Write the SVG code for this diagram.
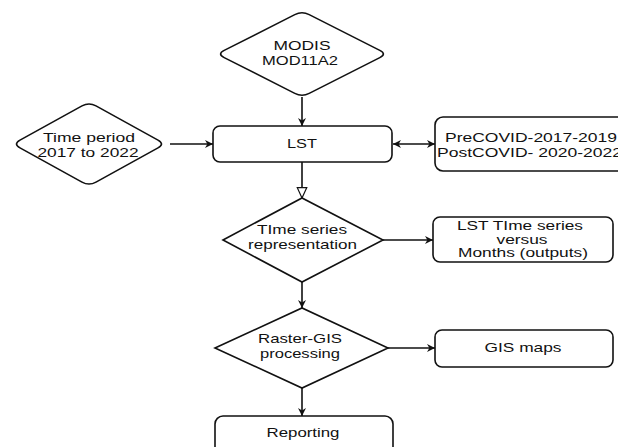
<svg xmlns="http://www.w3.org/2000/svg" width="618" height="447" viewBox="0 0 618 447">
<style>
.shape{fill:#fff;stroke:#111;stroke-width:1.6}
.t{font-family:"Liberation Sans",Arial,sans-serif;font-size:13.5px;fill:#111;text-anchor:middle}
.ts{text-anchor:start}
.sm{font-size:12px}
.c{stroke:#111;stroke-width:1.6;fill:none}
</style>
<defs>
<marker id="arr" viewBox="0 0 10 10" refX="10" refY="5" markerWidth="9" markerHeight="8" markerUnits="userSpaceOnUse" orient="auto-start-reverse">
<path d="M0,0 L10,5 L0,10 L3,5 Z" fill="#111"/>
</marker>
<marker id="open" viewBox="0 0 14 12" refX="13" refY="6" markerWidth="12" markerHeight="13" markerUnits="userSpaceOnUse" orient="auto">
<path d="M1,0.5 L13,6 L1,11.5 Z" fill="#fff" stroke="#111" stroke-width="1.4"/>
</marker>
</defs>
<rect width="618" height="447" fill="#fff"/>
<g id="connectors">
<line class="c" x1="302" y1="97" x2="302" y2="126" marker-end="url(#arr)"/>
<line class="c" x1="170" y1="144" x2="213" y2="144" marker-end="url(#arr)"/>
<line class="c" x1="393" y1="144" x2="435" y2="144" marker-start="url(#arr)" marker-end="url(#arr)"/>
<line class="c" x1="302" y1="162" x2="302" y2="198" marker-end="url(#open)"/>
<line class="c" x1="383" y1="240" x2="433" y2="240" marker-end="url(#arr)"/>
<line class="c" x1="302" y1="282" x2="302" y2="308" marker-end="url(#arr)"/>
<line class="c" x1="388" y1="348" x2="435" y2="348" marker-end="url(#arr)"/>
<line class="c" x1="302" y1="388" x2="302" y2="416" marker-end="url(#arr)"/>
</g>
<g id="modis">
<path class="shape" d="M224.2,50.4 L294.8,14.6 Q302,11 309.2,14.6 L379.8,50.4 Q387,54 379.8,57.6 L309.2,93.4 Q302,97 294.8,93.4 L224.2,57.6 Q217,54 224.2,50.4 Z"/>
<text class="t" x="302" y="50" textLength="57" lengthAdjust="spacingAndGlyphs">MODIS</text>
<text class="t" x="300" y="65" textLength="76" lengthAdjust="spacingAndGlyphs">MOD11A2</text>
</g>
<g id="timeperiod">
<path class="shape" d="M20,140.1 L82,105.9 Q89,102 96,105.9 L158,140.1 Q165,144 158,147.9 L96,182.1 Q89,186 82,182.1 L20,147.9 Q13,144 20,140.1 Z"/>
<text class="t" x="89" y="142" textLength="92" lengthAdjust="spacingAndGlyphs">Time period</text>
<text class="t" x="88" y="157" textLength="101" lengthAdjust="spacingAndGlyphs">2017 to 2022</text>
</g>
<g id="lst">
<rect class="shape" x="213" y="126" width="179" height="36" rx="7"/>
<text class="t" x="302" y="148" textLength="30" lengthAdjust="spacingAndGlyphs">LST</text>
</g>
<g id="covid">
<rect class="shape" x="435" y="117" width="200" height="54" rx="8"/>
<text class="t ts" x="445" y="142" textLength="172" lengthAdjust="spacingAndGlyphs">PreCOVID-2017-2019</text>
<text class="t ts" x="437" y="157" textLength="185" lengthAdjust="spacingAndGlyphs">PostCOVID- 2020-2022</text>
</g>
<g id="timeseries">
<path class="shape" d="M223,240 L302,198 L383,240 L302,282 Z"/>
<text class="t" x="302" y="234" textLength="90" lengthAdjust="spacingAndGlyphs">TIme series</text>
<text class="t" x="302.5" y="249" textLength="109" lengthAdjust="spacingAndGlyphs">representation</text>
</g>
<g id="lstts">
<rect class="shape" x="433" y="217" width="180" height="45" rx="7"/>
<text class="t sm" x="520" y="230" textLength="126" lengthAdjust="spacingAndGlyphs">LST TIme series</text>
<text class="t sm" x="522" y="243.5" textLength="51" lengthAdjust="spacingAndGlyphs">versus</text>
<text class="t sm" x="523" y="257" textLength="130" lengthAdjust="spacingAndGlyphs">Months (outputs)</text>
</g>
<g id="raster">
<path class="shape" d="M215,348 L302,308 L388,348 L302,388 Z"/>
<text class="t" x="300" y="343" textLength="84" lengthAdjust="spacingAndGlyphs">Raster-GIS</text>
<text class="t" x="300" y="358" textLength="80" lengthAdjust="spacingAndGlyphs">processing</text>
</g>
<g id="gismaps">
<rect class="shape" x="435" y="330" width="178" height="37" rx="7"/>
<text class="t" x="523" y="352" textLength="77" lengthAdjust="spacingAndGlyphs">GIS maps</text>
</g>
<g id="reporting">
<rect class="shape" x="215" y="416" width="178" height="50" rx="8"/>
<text class="t" x="303" y="437" textLength="73" lengthAdjust="spacingAndGlyphs">Reporting</text>
</g>
</svg>
